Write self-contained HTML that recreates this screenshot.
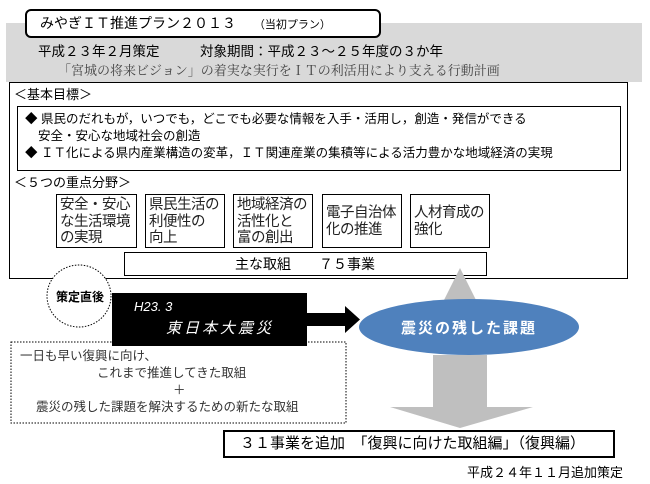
<!DOCTYPE html>
<html><head><meta charset="utf-8"><style>
body{margin:0;width:650px;height:484px;background:#fff;position:relative;overflow:hidden;font-family:"Liberation Sans","Noto Sans CJK JP",sans-serif;color:#000}
.a{position:absolute;white-space:nowrap;line-height:1}
.bx{position:absolute;border:1.5px solid #000;box-sizing:border-box;background:#fff}
.f{font-size:14.5px;line-height:16.5px;padding:2px 3px;white-space:nowrap;letter-spacing:-0.5px;color:#222}
</style></head><body>
<div style="position:absolute;left:6px;top:23px;width:636px;height:59px;background:#d9d9d9"></div>
<div class="bx" style="left:25px;top:9px;width:356px;height:29px;border:2px solid #000;border-radius:6px"></div>
<div class="a" style="left:40px;top:16px;font-size:14px">みやぎＩＴ推進プラン２０１３　 <span style="font-size:11px">（当初プラン）</span></div>
<div class="a" style="left:38px;top:45px;font-size:13.5px">平成２３年２月策定　　　対象期間：平成２３～２５年度の３か年</div>
<div class="a" style="left:58px;top:64px;font-size:13px;font-family:'Liberation Serif','Noto Serif CJK SC',serif;color:#444">「宮城の将来ビジョン」の着実な実行をＩＴの利活用により支える行動計画</div>
<div class="bx" style="left:9px;top:82px;width:619px;height:197px"></div>
<div class="a" style="left:14px;top:88px;font-size:13px">＜基本目標＞</div>
<div class="bx" style="left:17px;top:106px;width:604px;height:65px;border-width:1px"></div>
<div class="a" style="left:25px;top:113px;font-size:12.5px">◆ 県民のだれもが，いつでも，どこでも必要な情報を入手・活用し，創造・発信ができる</div>
<div class="a" style="left:38px;top:130px;font-size:12.5px">安全・安心な地域社会の創造</div>
<div class="a" style="left:25px;top:147px;font-size:12.5px">◆ ＩＴ化による県内産業構造の変革，ＩＴ関連産業の集積等による活力豊かな地域経済の実現</div>
<div class="a" style="left:14px;top:176px;font-size:13px">＜５つの重点分野＞</div>
<div class="bx f" style="left:56px;top:194px;width:81px;height:54px">安全・安心<br>な生活環境<br>の実現</div>
<div class="bx f" style="left:145px;top:194px;width:80px;height:54px">県民生活の<br>利便性の<br>向上</div>
<div class="bx f" style="left:233px;top:194px;width:80px;height:54px">地域経済の<br>活性化と<br>富の創出</div>
<div class="bx f" style="left:322px;top:194px;width:80px;height:54px;padding-top:10px">電子自治体<br>化の推進</div>
<div class="bx f" style="left:410px;top:194px;width:80px;height:54px;padding-top:10px">人材育成の<br>強化</div>
<div class="bx" style="left:124px;top:252px;width:363px;height:24px;border-width:1px"></div>
<div class="a" style="left:235px;top:257px;font-size:14px">主な取組　　７５事業</div>
<svg style="position:absolute;left:0;top:0" width="650" height="484">
<polygon points="460,268 443,302 477,302" fill="#bfbfbf"/>
<polygon points="433,395 433,407 390,407 460,428 533,407 487,407 487,395" fill="#bfbfbf"/>
<rect x="433" y="355" width="54" height="45" fill="#bfbfbf"/>
<ellipse cx="469" cy="327" rx="110" ry="28" fill="#4f81bd"/>
<text x="469" y="333" font-size="15" font-weight="bold" fill="#fff" text-anchor="middle" letter-spacing="2" font-family="Liberation Sans,Noto Sans CJK JP,sans-serif">震災の残した課題</text>
<ellipse cx="79" cy="296" rx="32" ry="31" fill="#fff" stroke="#000" stroke-dasharray="1.5,1.5"/>
<text x="80" y="301" font-size="12" font-weight="bold" text-anchor="middle" font-family="Liberation Sans,Noto Sans CJK JP,sans-serif">策定直後</text>
<rect x="11" y="342" width="335" height="81" fill="#fff" stroke="#000" stroke-dasharray="1.5,1.5"/>
<rect x="112" y="293" width="195" height="53" fill="#000"/>
<polygon points="305,313 345,313 345,306 360,319.5 345,333 345,326 305,326" fill="#000"/>
</svg>
<div class="a" style="left:134px;top:300px;font-size:13px;color:#fff;font-style:italic">H23. 3</div>
<div class="a" style="left:166px;top:321px;font-size:15px;color:#fff;font-style:italic;letter-spacing:3px">東日本大震災</div>
<div class="a" style="left:20px;top:350px;font-size:12.5px;color:#333">一日も早い復興に向け、</div>
<div class="a" style="left:97px;top:367px;font-size:12.5px;color:#333">これまで推進してきた取組</div>
<div class="a" style="left:173px;top:384px;font-size:12.5px;color:#333">＋</div>
<div class="a" style="left:36px;top:401px;font-size:12.5px;color:#333">震災の残した課題を解決するための新たな取組</div>
<div class="bx" style="left:223px;top:430px;width:392px;height:28px;border-width:2px"></div>
<div class="a" style="left:240px;top:436px;font-size:15px">３１事業を追加　「復興に向けた取組編」（復興編）</div>
<div class="a" style="left:467px;top:466px;font-size:13px">平成２４年１１月追加策定</div>
</body></html>
